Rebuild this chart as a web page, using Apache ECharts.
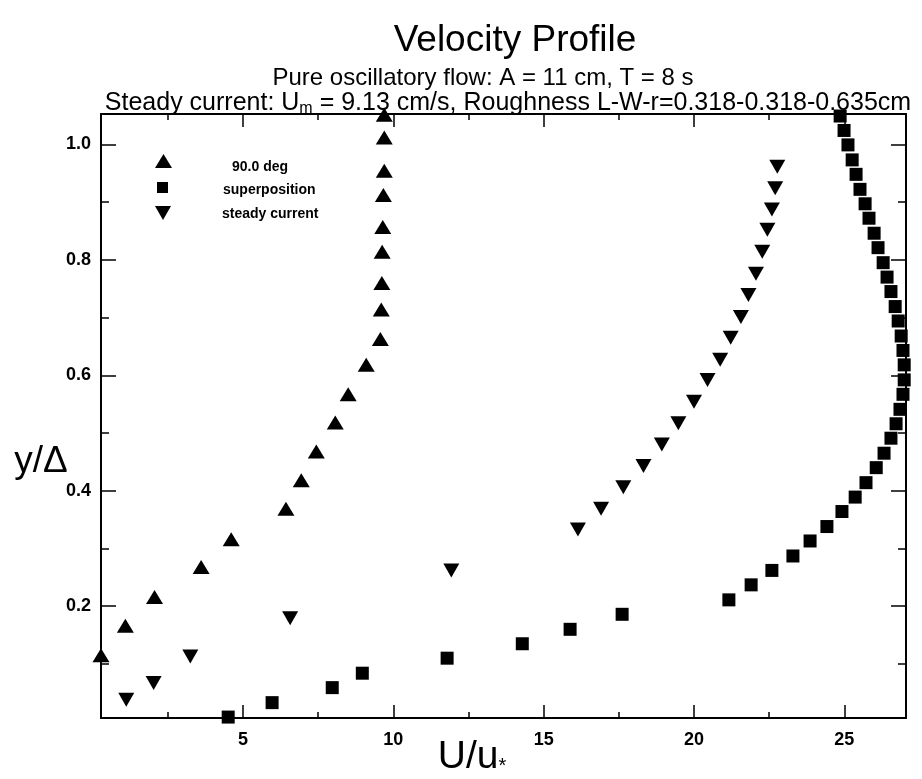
<!DOCTYPE html>
<html><head><meta charset="utf-8">
<script src="https://cdn.jsdelivr.net/npm/echarts@6/dist/echarts.min.js"></script>
<style>html,body{margin:0;padding:0;background:#fff}#c{width:922px;height:779px}</style>
</head><body><div id="c"></div>
<script>
const FONT = '"Liberation Sans", Arial, Helvetica, sans-serif';
// tick values
const xTicks = [5, 10, 15, 20, 25];
const xMinorTicks = [2.5, 7.5, 12.5, 17.5, 22.5];
const yTicks = [0.2, 0.4, 0.6, 0.8, 1.0];
const yMinorTicks = [0.1, 0.3, 0.5, 0.7, 0.9];
// series: 90.0 deg (up triangles)
const deg90X = [0.28, 1.09, 2.06, 3.61, 4.61, 6.43, 6.94, 7.44, 8.07, 8.50, 9.10, 9.57, 9.60, 9.62, 9.63, 9.65, 9.67, 9.70, 9.70, 9.70];
const deg90Y = [0.115, 0.166, 0.216, 0.268, 0.316, 0.369, 0.418, 0.468, 0.518, 0.567, 0.618, 0.663, 0.714, 0.760, 0.814, 0.857, 0.912, 0.954, 1.012, 1.051];
// series: superposition (squares)
const supX = [4.51, 5.97, 7.97, 8.97, 11.79, 14.29, 15.88, 17.61, 21.16, 21.90, 22.59, 23.29, 23.86, 24.42, 24.92, 25.36, 25.72, 26.06, 26.32, 26.55, 26.72, 26.85, 26.95, 26.99, 26.99, 26.95, 26.89, 26.79, 26.69, 26.55, 26.42, 26.29, 26.12, 25.99, 25.82, 25.69, 25.52, 25.39, 25.26, 25.12, 24.99, 24.86];
const supY = [0.008, 0.033, 0.059, 0.084, 0.110, 0.135, 0.160, 0.186, 0.211, 0.237, 0.262, 0.287, 0.313, 0.338, 0.364, 0.389, 0.414, 0.440, 0.465, 0.491, 0.516, 0.541, 0.567, 0.592, 0.618, 0.643, 0.668, 0.694, 0.719, 0.745, 0.770, 0.795, 0.821, 0.846, 0.872, 0.897, 0.922, 0.948, 0.973, 0.999, 1.024, 1.049];
// series: steady current (down triangles)
const steadyX = [1.12, 2.03, 3.25, 6.57, 11.93, 16.14, 16.91, 17.65, 18.32, 18.93, 19.48, 20.00, 20.45, 20.87, 21.22, 21.56, 21.81, 22.06, 22.27, 22.44, 22.59, 22.70, 22.77];
const steadyY = [0.038, 0.067, 0.113, 0.179, 0.262, 0.333, 0.369, 0.406, 0.443, 0.480, 0.517, 0.554, 0.592, 0.627, 0.665, 0.701, 0.739, 0.776, 0.814, 0.852, 0.887, 0.924, 0.961];

const X_MIN = 0.28, X_MAX = 27.05, Y_MIN = 0.0064, Y_MAX = 1.0525;
const DOWN_TRI = 'path://M0,0L16,0L8,14Z';

const zip = (a, b) => a.map((v, i) => [v, b[i]]);

function xAx(pos, vals, len, showLine, showLabel) {
  return {
    type: 'value', position: pos, min: X_MIN, max: X_MAX,
    axisLine: { show: showLine, onZero: false, lineStyle: { color: '#000', width: 2 } },
    axisTick: { show: true, inside: true, length: len, customValues: vals, lineStyle: { color: '#000', width: 1.5 } },
    axisLabel: { show: showLabel, customValues: vals, margin: 13, color: '#000', fontSize: 18, fontWeight: 'bold', fontFamily: FONT },
    splitLine: { show: false }
  };
}
function yAx(pos, vals, len, showLine, showLabel) {
  return {
    type: 'value', position: pos, min: Y_MIN, max: Y_MAX,
    axisLine: { show: showLine, onZero: false, lineStyle: { color: '#000', width: 2 } },
    axisTick: { show: true, inside: true, length: len, customValues: vals, lineStyle: { color: '#000', width: 1.5 } },
    axisLabel: { show: showLabel, customValues: vals, margin: 10, color: '#000', fontSize: 18, fontWeight: 'bold', fontFamily: FONT,
      formatter: v => v.toFixed(1) },
    splitLine: { show: false }
  };
}

function legendStyle(padTop, padLeft) {
  return {
    color: '#000',
    rich: { t: { fontSize: 14, fontWeight: 'bold', fontFamily: FONT, color: '#000', padding: [padTop, 0, 0, padLeft] } }
  };
}

const chart = echarts.init(document.getElementById('c'), null, { renderer: 'canvas' });
chart.setOption({
  backgroundColor: '#fff',
  animation: false,
  grid: { left: 101, right: 16, top: 114, bottom: 61, containLabel: false },
  xAxis: [
    xAx('bottom', xTicks, 13, true, true),
    xAx('bottom', xMinorTicks, 6, false, false),
    xAx('top', xTicks, 13, true, false),
    xAx('top', xMinorTicks, 6, false, false)
  ],
  yAxis: [
    yAx('left', yTicks, 15, true, true),
    yAx('left', yMinorTicks, 8, false, false),
    yAx('right', yTicks, 15, true, false),
    yAx('right', yMinorTicks, 8, false, false)
  ],
  legend: [
    { data: ['90.0 deg'], formatter: '{t|{name}}', left: 150, top: 149, padding: 5, itemWidth: 17, itemHeight: 14, textStyle: legendStyle(12, 55) },
    { data: ['superposition'], formatter: '{t|{name}}', left: 152, top: 177, padding: 5, itemWidth: 11, itemHeight: 11, textStyle: legendStyle(5, 50) },
    { data: ['steady current'], formatter: '{t|{name}}', left: 150, top: 201, padding: 5, itemWidth: 16, itemHeight: 14, textStyle: legendStyle(2, 46) }
  ],
  graphic: [
    { type: 'text', x: 515, y: 41, style: { text: 'Velocity Profile', fontSize: 37, fontFamily: FONT, fill: '#000', align: 'center', verticalAlign: 'middle' } },
    { type: 'text', x: 483, y: 78, style: { text: 'Pure oscillatory flow: A = 11 cm, T = 8 s', fontSize: 24, fontFamily: FONT, fill: '#000', align: 'center', verticalAlign: 'middle' } },
    { type: 'text', x: 508, y: 103, style: { text: 'Steady current: U{sub|m} = 9.13 cm/s, Roughness L-W-r=0.318-0.318-0.635cm', fontSize: 25, fontFamily: FONT, fill: '#000', align: 'center', verticalAlign: 'middle',
      rich: { sub: { fontSize: 16, fontFamily: FONT, fill: '#000', padding: [12, 0, 0, 0] } } } },
    { type: 'text', x: 41, y: 462, style: { text: 'y/\u0394', fontSize: 37, fontFamily: FONT, fill: '#000', align: 'center', verticalAlign: 'middle' } },
    { type: 'text', x: 472, y: 757, style: { text: 'U/u{sub|*}', fontSize: 39, fontFamily: FONT, fill: '#000', align: 'center', verticalAlign: 'middle',
      rich: { sub: { fontSize: 20, fontFamily: FONT, fill: '#000', padding: [18, 0, 0, 0] } } } }
  ],
  series: [
    { name: '90.0 deg', type: 'scatter', xAxisIndex: 0, yAxisIndex: 0, symbol: 'triangle', symbolSize: [17, 14],
      itemStyle: { color: '#000', opacity: 1 }, data: zip(deg90X, deg90Y) },
    { name: 'superposition', type: 'scatter', xAxisIndex: 0, yAxisIndex: 0, symbol: 'rect', symbolSize: 13,
      itemStyle: { color: '#000', opacity: 1 }, data: zip(supX, supY) },
    { name: 'steady current', type: 'scatter', xAxisIndex: 0, yAxisIndex: 0, symbol: DOWN_TRI, symbolSize: [16, 14],
      itemStyle: { color: '#000', opacity: 1 }, data: zip(steadyX, steadyY) }
  ]
});
</script>
</body></html>
